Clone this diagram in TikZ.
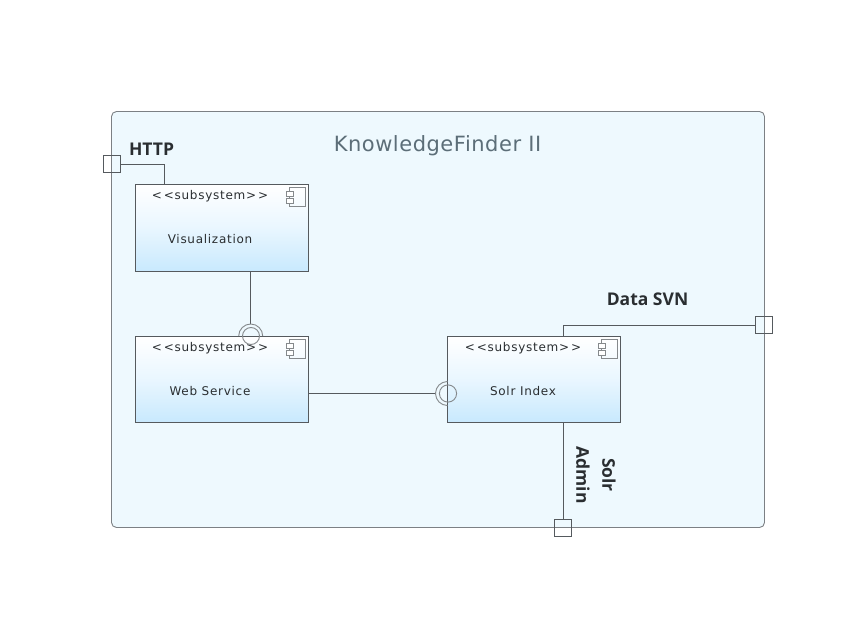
\documentclass[tikz,border=0pt]{standalone}
\usepackage{fontspec}
\setmainfont{DejaVu Sans}
\newfontfamily\labelfont{Open Sans}
\newfontfamily\spacedfont[LetterSpace=6]{DejaVu Sans}
\newfontfamily\titlefont[LetterSpace=2.5]{DejaVu Sans}
\definecolor{linec}{HTML}{555A5E}
\definecolor{framec}{HTML}{7C8084}
\definecolor{framefill}{HTML}{EEF9FE}
\definecolor{boxbot}{HTML}{C8E9FE}
\definecolor{iconc}{HTML}{85898C}
\definecolor{txt}{HTML}{2A2E31}
\definecolor{titlec}{HTML}{5C6E78}
\tikzset{
  frame/.style={draw=framec,line width=0.9pt,fill=framefill,rounded corners=5pt,inner sep=0pt,minimum width=653pt,minimum height=416pt},
  comp/.style={draw=linec,line width=0.9pt,top color=white,bottom color=boxbot,middle color=boxbot!40!white,minimum width=173pt,minimum height=#1,inner sep=0pt,outer sep=0pt},
  port/.style={draw=linec,line width=0.9pt,minimum size=16.5pt,inner sep=0pt,outer sep=0pt},
  conn/.style={draw=linec,line width=0.9pt},
  stereo/.style={font=\spacedfont\fontsize{12pt}{14pt}\selectfont,text=txt,inner sep=0pt},
  cname/.style={font=\spacedfont\fontsize{12pt}{14pt}\selectfont,text=txt,inner sep=0pt},
  plabel/.style={font=\labelfont\bfseries\fontsize{17.5pt}{20pt}\selectfont,text=txt,inner sep=0pt},
  titlelabel/.style={font=\titlefont\fontsize{21pt}{25pt}\selectfont,text=titlec,inner sep=0pt},
  iconl/.style={draw=iconc,line width=0.8pt},
  socket/.style={draw=iconc,line width=0.9pt},
  pics/compicon/.style={code={
    \draw[iconl] (0,0) rectangle (16.5,19.5);
    \draw[iconl,fill=white] (-3,4) rectangle (4,9);
    \draw[iconl,fill=white] (-3,11.5) rectangle (4,16.5);
  }}
}
\begin{document}
\begin{tikzpicture}[x=1pt,y=-1pt]
\useasboundingbox (0,0) rectangle (859,639);
\node[frame] (fr) at (438,319.5) {};
\node[titlelabel] (title) at (437.5,145.5) {KnowledgeFinder II};
% components
\node[comp=87pt] (vis) at (222,228) {};
\node[comp=86pt] (web) at (222,379.5) {};
\node[comp=86pt] (solr) at (534,379.5) {};
\pic at (289.3,187.3) {compicon};
\pic at (289.3,339.3) {compicon};
\pic at (601.3,339.3) {compicon};
\node[stereo] (s1) at (210,196.5) {<\kern2pt<subsystem>\kern2pt>};
\node[stereo] (s2) at (210,348.5) {<\kern2pt<subsystem>\kern2pt>};
\node[stereo] (s3) at (523,348.5) {<\kern2pt<subsystem>\kern2pt>};
\node[cname] (n1) at (210,239.5) {Visualization};
\node[cname] (n2) at (210,391) {Web Service};
\node[cname] (n3) at (523,391) {Solr Index};
% ports
\node[port] (phttp) at (112,164) {};
\node[port] (psvn) at (764,325) {};
\node[port] (padmin) at (563,528) {};
\coordinate (sockA) at (250.7,324);
\coordinate (sockB) at (436,393.5);
% connectors
\draw[conn] (phttp.east) -| (vis.north -| 164.5,0);
\draw[conn] (psvn.west) -| (solr.north -| 563,0);
\draw[conn] (solr.south -| padmin.north) -- (padmin.north);
\draw[conn] (vis.south -| sockA) -- (sockA);
\draw[conn] (web.east |- sockB) -- (sockB);
% sockets
\draw[socket] (238.7,336) arc[start angle=180,end angle=360,radius=12];
\draw[socket] (251,336) circle[radius=8.5];
\draw[socket] (447.5,381.5) arc[start angle=270,end angle=90,radius=12];
\draw[socket] (448,393.5) circle[radius=8.6];
% labels
\node[plabel] (lhttp) at (151.5,149) {HTTP};
\node[plabel] (lsvn) at (647.5,299) {Data SVN};
\node[plabel,rotate=-90,align=center,font=\labelfont\bfseries\fontsize{17.5pt}{26pt}\selectfont] (ladmin) at (596,475) {Solr\\Admin};
\end{tikzpicture}
\end{document}
